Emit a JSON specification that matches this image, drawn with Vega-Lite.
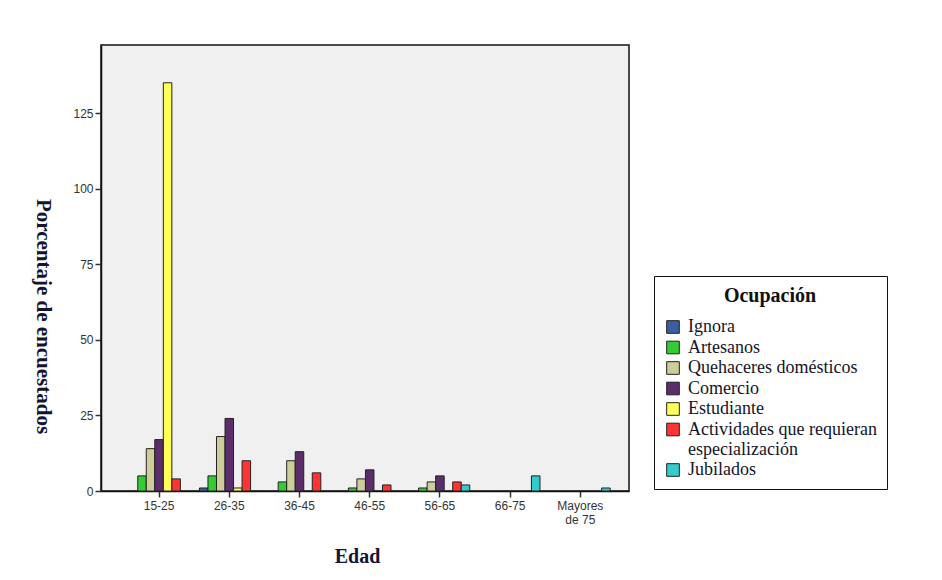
{
  "$schema": "https://vega.github.io/schema/vega-lite/v6.json",
  "width": 528,
  "height": 446,
  "padding": {"left": 32, "top": 45, "right": 5, "bottom": 5},
  "background": "white",
  "config": {
    "view": {"fill": "#f0f0f0", "stroke": "#111", "strokeWidth": 1.5},
    "axis": {
      "labelFont": "Liberation Sans",
      "labelFontSize": 12,
      "labelColor": "#333",
      "domainColor": "#111",
      "domainWidth": 1.5,
      "tickColor": "#333",
      "tickWidth": 1.5,
      "grid": false,
      "titleFont": "Liberation Serif",
      "titleFontWeight": "bold",
      "titleColor": "#141432"
    }
  },
  "data": {
    "values": [
      {"Edad": "15-25", "Ocupacion": "Artesanos", "valor": 5},
      {"Edad": "15-25", "Ocupacion": "Quehaceres domésticos", "valor": 14},
      {"Edad": "15-25", "Ocupacion": "Comercio", "valor": 17},
      {"Edad": "15-25", "Ocupacion": "Estudiante", "valor": 135},
      {"Edad": "15-25", "Ocupacion": "Actividades que requieran especialización", "valor": 4},
      {"Edad": "26-35", "Ocupacion": "Ignora", "valor": 1},
      {"Edad": "26-35", "Ocupacion": "Artesanos", "valor": 5},
      {"Edad": "26-35", "Ocupacion": "Quehaceres domésticos", "valor": 18},
      {"Edad": "26-35", "Ocupacion": "Comercio", "valor": 24},
      {"Edad": "26-35", "Ocupacion": "Estudiante", "valor": 1},
      {"Edad": "26-35", "Ocupacion": "Actividades que requieran especialización", "valor": 10},
      {"Edad": "36-45", "Ocupacion": "Artesanos", "valor": 3},
      {"Edad": "36-45", "Ocupacion": "Quehaceres domésticos", "valor": 10},
      {"Edad": "36-45", "Ocupacion": "Comercio", "valor": 13},
      {"Edad": "36-45", "Ocupacion": "Actividades que requieran especialización", "valor": 6},
      {"Edad": "46-55", "Ocupacion": "Artesanos", "valor": 1},
      {"Edad": "46-55", "Ocupacion": "Quehaceres domésticos", "valor": 4},
      {"Edad": "46-55", "Ocupacion": "Comercio", "valor": 7},
      {"Edad": "46-55", "Ocupacion": "Actividades que requieran especialización", "valor": 2},
      {"Edad": "56-65", "Ocupacion": "Artesanos", "valor": 1},
      {"Edad": "56-65", "Ocupacion": "Quehaceres domésticos", "valor": 3},
      {"Edad": "56-65", "Ocupacion": "Comercio", "valor": 5},
      {"Edad": "56-65", "Ocupacion": "Actividades que requieran especialización", "valor": 3},
      {"Edad": "56-65", "Ocupacion": "Jubilados", "valor": 2},
      {"Edad": "66-75", "Ocupacion": "Jubilados", "valor": 5},
      {"Edad": "Mayores de 75", "Ocupacion": "Jubilados", "valor": 1}
    ]
  },
  "mark": {"type": "bar", "stroke": "#222", "strokeWidth": 1},
  "encoding": {
    "x": {
      "field": "Edad",
      "type": "nominal",
      "sort": ["15-25", "26-35", "36-45", "46-55", "56-65", "66-75", "Mayores de 75"],
      "scale": {"paddingInner": 0.15, "paddingOuter": 0.335, "align": 0.6},
      "axis": {
        "title": "Edad",
        "titleFontSize": 20,
        "titleX": 256,
        "labelAngle": 0,
        "tickSize": 6,
        "labelPadding": 3,
        "titlePadding": 21,
        "labelExpr": "datum.value == 'Mayores de 75' ? ['Mayores', 'de 75'] : datum.value",
        "labelLineHeight": 14
      }
    },
    "xOffset": {
      "field": "Ocupacion",
      "type": "nominal",
      "scale": {"domain": ["Ignora", "Artesanos", "Quehaceres domésticos", "Comercio", "Estudiante", "Actividades que requieran especialización", "Jubilados"]}
    },
    "y": {
      "field": "valor",
      "type": "quantitative",
      "scale": {"domain": [0, 147.5], "nice": false},
      "axis": {
        "title": "Porcentaje de encuestados",
        "titleFontSize": 21,
        "titleY": 271,
        "values": [0, 25, 50, 75, 100, 125],
        "tickSize": 6,
        "labelPadding": 2,
        "titleAngle": 90,
        "titlePadding": 40
      }
    },
    "color": {
      "field": "Ocupacion",
      "type": "nominal",
      "title": "Ocupación",
      "scale": {
        "domain": ["Ignora", "Artesanos", "Quehaceres domésticos", "Comercio", "Estudiante", "Actividades que requieran especialización", "Jubilados"],
        "range": ["#3a5fa0", "#33cc33", "#cdcd9a", "#5c2d6b", "#ffff55", "#ff3333", "#33cccc"]
      },
      "legend": {
        "orient": "none",
        "legendX": 553,
        "legendY": 231,
        "direction": "vertical",
        "fillColor": "white",
        "strokeColor": "#111",
        "padding": 10,
        "symbolType": "square",
        "symbolSize": 160,
        "symbolStrokeColor": "#222",
        "symbolStrokeWidth": 1,
        "symbolOpacity": 1,
        "labelFont": "Liberation Serif",
        "labelFontSize": 18,
        "labelColor": "#141428",
        "labelLimit": 400,
        "labelOffset": 6,
        "labelExpr": "datum.label == 'Actividades que requieran especialización' ? ['Actividades que requieran', 'especialización'] : datum.label",
        "rowPadding": 2.5,
        "titleFont": "Liberation Serif",
        "titleFontSize": 20,
        "titleFontWeight": "bold",
        "titleColor": "#111",
        "titleAnchor": "middle",
        "titlePadding": 12
      }
    }
  }
}
